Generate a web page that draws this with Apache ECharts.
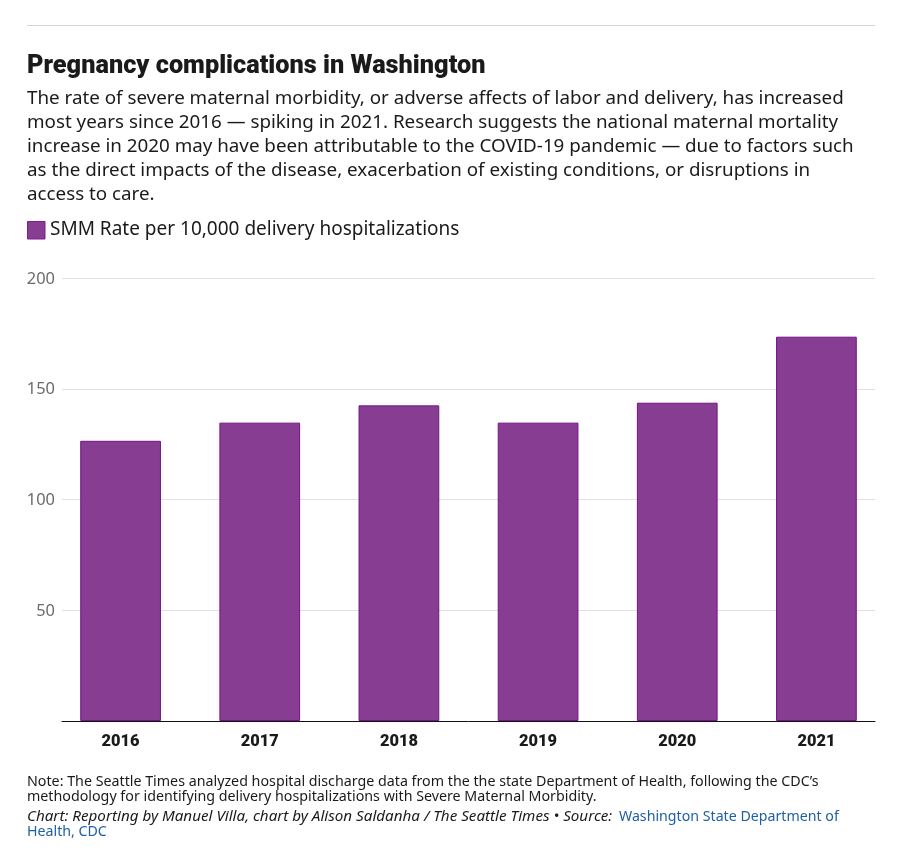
<!DOCTYPE html>
<html><head><meta charset="utf-8">
<script src="https://cdn.jsdelivr.net/npm/echarts@6/dist/echarts.min.js"></script>
<style>html,body{margin:0;padding:0;background:#fff}#c{width:900px;height:851px}</style></head>
<body><div id="c"></div>
<script>
const categories = ['2016','2017','2018','2019','2020','2021'];
const smmRate = [126.5,134.7,142.5,134.7,143.7,173.5];
const seriesName = 'SMM Rate per 10,000 delivery hospitalizations';
const yTicks = [50,100,150,200];
const headline = 'Pregnancy complications in Washington';
const introLines = [
 'The rate of severe maternal morbidity, or adverse affects of labor and delivery, has increased',
 'most years since 2016 — spiking in 2021. Research suggests the national maternal mortality',
 'increase in 2020 may have been attributable to the COVID-19 pandemic — due to factors such',
 'as the direct impacts of the disease, exacerbation of existing conditions, or disruptions in',
 'access to care.'];
const noteLines = [
 'Note: The Seattle Times analyzed hospital discharge data from the the state Department of Health, following the CDC’s',
 'methodology for identifying delivery hospitalizations with Severe Maternal Morbidity.'];
const creditLine = 'Chart: Reporting by Manuel Villa, chart by Alison Saldanha / The Seattle Times • Source:';
const sourceA = 'Washington State Department of';
const sourceB = 'Health, CDC';
const F = '"Noto Sans"';
const txt = (x,y,text,o)=>({type:'text',x,y,style:Object.assign({text,fontFamily:F,fontSize:18,fill:'#1a1a1a',textVerticalAlign:'middle'},o||{})});
const chart = echarts.init(document.getElementById('c'),null,{renderer:'canvas'});
const g = [];
g.push({type:'rect',shape:{x:27,y:25,width:848,height:1},style:{fill:'#d4d4d4'}});
g.push(txt(27,67,headline,{fontFamily:'Roboto',fontWeight:900,fontSize:25.3,fill:'#1a1a1a'}));
introLines.forEach((t,i)=>g.push(txt(27,99+24*i,t,{fontSize:18.8})));
g.push({type:'rect',shape:{x:27.5,y:221.5,width:17.5,height:17.5},style:{fill:'#873d92',stroke:'#7a1f8c',lineWidth:1}});
g.push(txt(50,230,seriesName,{fontSize:19}));
noteLines.forEach((t,i)=>g.push(txt(27,782+15*i,t,{fontSize:14.25})));
g.push(txt(27,817,creditLine,{fontSize:15.2,fontStyle:'italic'}));
g.push(txt(619,817,sourceA,{fontSize:14.2,fill:'#1f5fa5'}));
g.push(txt(27,832,sourceB,{fontSize:14.2,fill:'#1f5fa5'}));
chart.setOption({
 animation:false,
 backgroundColor:'#fff',
 grid:[
  {left:62,right:25,top:278,bottom:130},
  {left:51,right:14,top:278,bottom:130}
 ],
 xAxis:[
  {gridIndex:0,type:'category',data:categories,
   axisLine:{lineStyle:{color:'#111',width:1}},axisTick:{show:false},axisLabel:{show:false},z:5},
  {gridIndex:1,type:'category',data:categories,
   axisLine:{show:false},axisTick:{show:false},
   axisLabel:{fontFamily:'Roboto',fontWeight:900,fontSize:16.4,color:'#1a1a1a',margin:13}}
 ],
 yAxis:[
  {gridIndex:0,type:'value',min:0,max:200,interval:50,
   axisLine:{show:false},axisTick:{show:false},
   splitLine:{lineStyle:{color:'#e0e0e0',width:1}},
   axisLabel:{fontFamily:F,fontSize:16.4,color:'#6b6b6b',margin:7,verticalAlign:'top',lineHeight:2,
    formatter:v=>yTicks.includes(v)?String(v):''}},
  {gridIndex:1,type:'value',min:0,max:200,interval:50,show:false,splitLine:{show:false}}
 ],
 series:[{type:'bar',name:seriesName,data:smmRate,xAxisIndex:1,yAxisIndex:1,barWidth:'58%',
  itemStyle:{color:'#873d92',borderColor:'#74128a',borderWidth:1}}],
 graphic:g
});
</script></body></html>
